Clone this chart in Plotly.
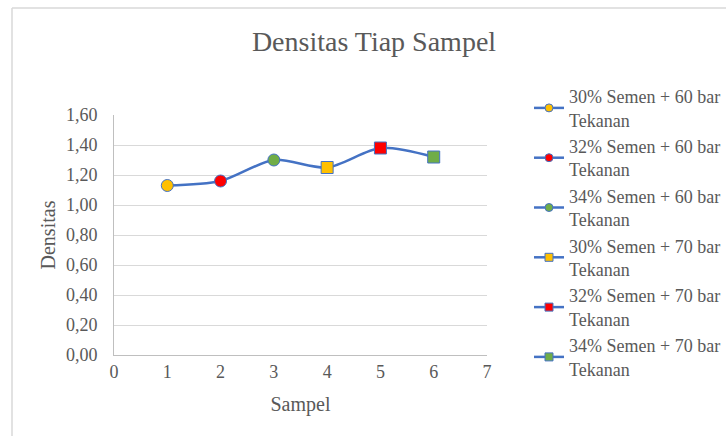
import plotly.graph_objects as go

samples = [1, 2, 3, 4, 5, 6]
densitas = [1.13, 1.16, 1.30, 1.25, 1.38, 1.32]
labels = ["30% Semen + 60 bar<br>Tekanan", "32% Semen + 60 bar<br>Tekanan",
          "34% Semen + 60 bar<br>Tekanan", "30% Semen + 70 bar<br>Tekanan",
          "32% Semen + 70 bar<br>Tekanan", "34% Semen + 70 bar<br>Tekanan"]
colors = ["#FFC000", "#FF0000", "#70AD47", "#FFC000", "#FF0000", "#70AD47"]
symbols = ["circle", "circle", "circle", "square", "square", "square"]
x_ticks = [0, 1, 2, 3, 4, 5, 6, 7]

LINE = "#4472C4"
TXT = "#595959"
FONT = "Liberation Serif"

W, H = 726, 436
L, R, T, B = 114, 487, 115, 355

fig = go.Figure()
fig.add_trace(go.Scatter(x=samples, y=densitas, mode="lines",
                         line=dict(color=LINE, width=2.5, shape="spline", smoothing=0.8),
                         showlegend=False, hoverinfo="skip"))
for i in range(len(samples)):
    fig.add_trace(go.Scatter(x=[samples[i]], y=[densitas[i]], mode="markers",
                             marker=dict(color=colors[i], symbol=symbols[i], size=12,
                                         line=dict(color=LINE, width=1)),
                             showlegend=False, name=labels[i]))
for i in range(len(samples)):
    fig.add_trace(go.Scatter(x=[None], y=[None], mode="lines+markers", name=labels[i],
                             line=dict(color=LINE, width=2.5),
                             marker=dict(color=colors[i], symbol=symbols[i], size=8,
                                         line=dict(color=LINE, width=1))))

pw, ph = R - L, B - T
def px2x(p):
    return (p - L) / pw
def py2y(p):
    return (B - p) / ph

fig.add_shape(type="line", xref="paper", yref="paper",
              x0=px2x(12), x1=px2x(740), y0=py2y(8), y1=py2y(8),
              line=dict(color="#D9D9D9", width=1.5))
fig.add_shape(type="line", xref="paper", yref="paper",
              x0=px2x(12), x1=px2x(12), y0=py2y(8), y1=py2y(450),
              line=dict(color="#D9D9D9", width=1.5))

fig.update_layout(
    width=W, height=H,
    margin=dict(l=L, r=W - R, t=T, b=H - B),
    paper_bgcolor="white", plot_bgcolor="white",
    separators=",.",
    font=dict(family=FONT, color=TXT, size=18),
    title=dict(text="Densitas Tiap Sampel", font=dict(size=28, color=TXT, family=FONT),
               x=px2x(374), xref="paper", xanchor="center",
               y=1 - 41 / H, yref="container", yanchor="middle"),
    xaxis=dict(range=[0, 7], tickvals=x_ticks, showgrid=False, zeroline=False,
               showline=True, linecolor="#BFBFBF", linewidth=1, ticks="",
               tickfont=dict(size=18, color=TXT, family=FONT),
               title=dict(text="Sampel", font=dict(size=20, color=TXT, family=FONT), standoff=16)),
    yaxis=dict(range=[0, 1.6], dtick=0.2, tickformat=".2f", showgrid=True,
               gridcolor="#D9D9D9", gridwidth=1, zeroline=False,
               showline=True, linecolor="#BFBFBF", linewidth=1, ticks="",
               ticklabelstandoff=12,
               tickfont=dict(size=18, color=TXT, family=FONT),
               title=dict(text="Densitas", font=dict(size=20, color=TXT, family=FONT), standoff=4)),
    legend=dict(x=529 / W, y=1 - 78 / H, xref="container", yref="container",
                xanchor="left", yanchor="top",
                font=dict(size=18, color=TXT, family=FONT),
                bgcolor="rgba(0,0,0,0)", tracegroupgap=0, itemwidth=30,
                maxheight=420),
)

fig.write_html("out.html")
